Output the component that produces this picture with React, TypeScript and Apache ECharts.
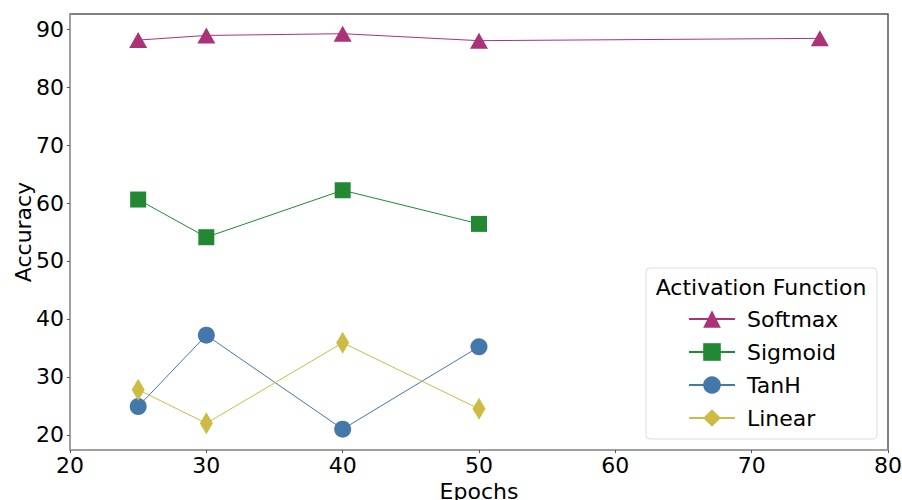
import React, { useEffect, useRef } from "react";
import * as echarts from "echarts";

const epochs = [25, 30, 40, 50, 75];
const softmax = [88.1, 88.9, 89.2, 88.0, 88.4];
const sigmoid = [60.6, 54.1, 62.2, 56.4];
const tanh = [24.9, 37.2, 21.0, 35.2];
const linear = [27.8, 22.0, 35.9, 24.5];
const seriesNames = ["Softmax", "Sigmoid", "TanH", "Linear"];
const colors = ["#AA3377", "#228833", "#4477AA", "#CCBB44"];
const yTicks = [20, 30, 40, 50, 60, 70, 80, 90];

const FONT = "DejaVu Sans";

function pairs(vals: number[]) {
  return vals.map((v, i) => [epochs[i], v]);
}

export default function App() {
  const ref = useRef<HTMLDivElement>(null);
  useEffect(() => {
    if (!ref.current) return;
    const chart = echarts.init(ref.current, null, { renderer: "svg" });
    const symbols = ["triangle", "rect", "circle", "diamond"];
    const sizes: any[] = [[18, 16], [16, 16], [17, 17], [13, 22]];
    const datas = [softmax, sigmoid, tanh, linear];
    chart.setOption({
      animation: false,
      backgroundColor: "#ffffff",
      textStyle: { fontFamily: FONT },
      grid: {
        left: 70,
        right: 14,
        top: 14,
        bottom: 50,
        outerBoundsMode: "none",
        containLabel: false,
        show: true,
        borderColor: "#555555",
        borderWidth: 1.5,
        backgroundColor: "transparent",
      },
      xAxis: {
        type: "value",
        min: 20,
        max: 80,
        interval: 10,
        name: "Epochs",
        nameLocation: "middle",
        nameGap: 30,
        nameMoveOverlap: false,
        nameTextStyle: { fontSize: 22, color: "#000", fontFamily: FONT },
        axisLine: { show: true, lineStyle: { color: "#aaaaaa", width: 1.5 } },
        axisTick: { show: true, length: 3, lineStyle: { color: "#555" } },
        axisLabel: { fontSize: 22, color: "#000", margin: 4, fontFamily: FONT },
        splitLine: { show: false },
      },
      yAxis: {
        type: "value",
        min: 17.4,
        max: 92.6,
        name: "Accuracy",
        nameLocation: "middle",
        nameGap: 36,
        nameMoveOverlap: false,
        nameRotate: 90,
        nameTextStyle: { fontSize: 22, color: "#000", fontFamily: FONT },
        axisLine: { show: true, lineStyle: { color: "#aaaaaa", width: 1.5 } },
        axisTick: { show: true, length: 3, customValues: yTicks, lineStyle: { color: "#555" } },
        axisLabel: { fontSize: 22, color: "#000", margin: 6, customValues: yTicks, fontFamily: FONT },
        splitLine: { show: false },
      },
      legend: {
        orient: "vertical",
        left: 683,
        top: 303,
        itemWidth: 46,
        itemHeight: 22,
        itemGap: 11,
        textStyle: { fontSize: 22, color: "#000", fontFamily: FONT, padding: [0, 0, 0, 7] },
        data: seriesNames,
      },
      graphic: [
        {
          type: "rect",
          shape: { x: 646, y: 268, width: 231, height: 171, r: 4 },
          style: { fill: "rgba(255,255,255,0.8)", stroke: "#dddddd", lineWidth: 1 },
          z: 0,
        },
        {
          type: "text",
          x: 761,
          y: 287,
          style: {
            text: "Activation Function",
            font: `22px '${FONT}'`,
            fill: "#000",
            textAlign: "center",
            textVerticalAlign: "middle",
          },
          z: 1,
        },
      ],
      series: seriesNames.map((name, i) => ({
        name,
        type: "line",
        data: pairs(datas[i]),
        symbol: symbols[i],
        symbolSize: sizes[i],
        lineStyle: { width: 1, color: colors[i] },
        itemStyle: { color: colors[i], opacity: 1 },
        z: 3,
      })),
    });
    return () => chart.dispose();
  }, []);
  return <div ref={ref} style={{ width: 902, height: 500, position: "absolute", left: 0, top: 0 }} />;
}
